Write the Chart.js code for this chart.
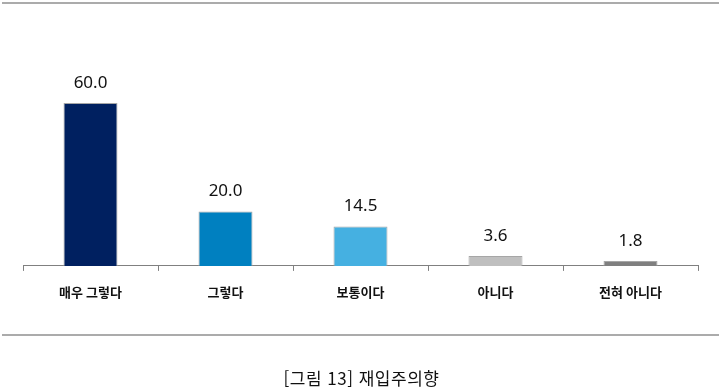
<!DOCTYPE html>
<html lang="ko">
<head>
<meta charset="utf-8">
<script src="https://cdn.jsdelivr.net/npm/chart.js@4.4.1/dist/chart.umd.min.js"></script>
<style>
  html, body { margin: 0; padding: 0; background: #fff; }
  .wrap { position: relative; width: 723px; height: 391px; overflow: hidden; }
  .wrap canvas { position: absolute; left: 0; top: 0; }
  .rule { position: absolute; left: 2px; width: 717px; height: 0; border-top: 2px solid #ababab; }
  .caption {
    position: absolute; left: 0; width: 723px; top: 368px; text-align: center;
    font-family: "Noto Sans CJK KR", sans-serif; font-size: 17px; line-height: 20px; color: #111;
    letter-spacing: 0.5px;
  }
</style>
</head>
<body>
<div class="wrap">
  <canvas id="chart" width="723" height="391"></canvas>
  <div class="rule" style="top:2px"></div>
  <div class="rule" style="top:334px"></div>
  <div class="caption">[그림 13] 재입주의향</div>
</div>
<script>
/* ========== Data ========== */
const categories = ['매우 그렇다', '그렇다', '보통이다', '아니다', '전혀 아니다'];
const values = [60.0, 20.0, 14.5, 3.6, 1.8];
const barColors = ['#002060', '#0080c0', '#45b0e1', '#bfbfbf', '#7f7f7f'];

/* ========== Value labels above bars ========== */
const valueLabels = {
  id: 'valueLabels',
  afterDatasetsDraw(chart) {
    const { ctx } = chart;
    const meta = chart.getDatasetMeta(0);
    ctx.save();
    ctx.font = '17px "Noto Sans", "Open Sans", sans-serif';
    ctx.fillStyle = '#111';
    ctx.textAlign = 'center';
    ctx.textBaseline = 'middle';
    meta.data.forEach((bar, i) => {
      ctx.fillText(values[i].toFixed(1), bar.x, bar.y - 20);
    });
    ctx.restore();
  }
};

/* ========== Bar chart ========== */
new Chart(document.getElementById('chart'), {
  type: 'bar',
  data: {
    labels: categories,
    datasets: [{
      data: values,
      backgroundColor: barColors,
      borderColor: '#a6a6a6',
      borderWidth: 1,
      categoryPercentage: 1,
      barPercentage: 0.4
    }]
  },
  options: {
    responsive: false,
    animation: false,
    layout: { padding: { top: 21.5, left: 23, right: 25, bottom: 78.5 } },
    plugins: {
      legend: { display: false },
      tooltip: { enabled: false }
    },
    scales: {
      x: {
        grid: { drawOnChartArea: false, tickLength: 5, color: '#808080', offset: true },
        border: { color: '#808080', width: 1 },
        ticks: {
          padding: 13,
          color: '#111',
          font: { family: '"Noto Sans CJK KR", sans-serif', size: 13, weight: 'bold' }
        }
      },
      y: { display: false, min: 0, max: 90 }
    }
  },
  plugins: [valueLabels]
});
</script>
</body>
</html>
